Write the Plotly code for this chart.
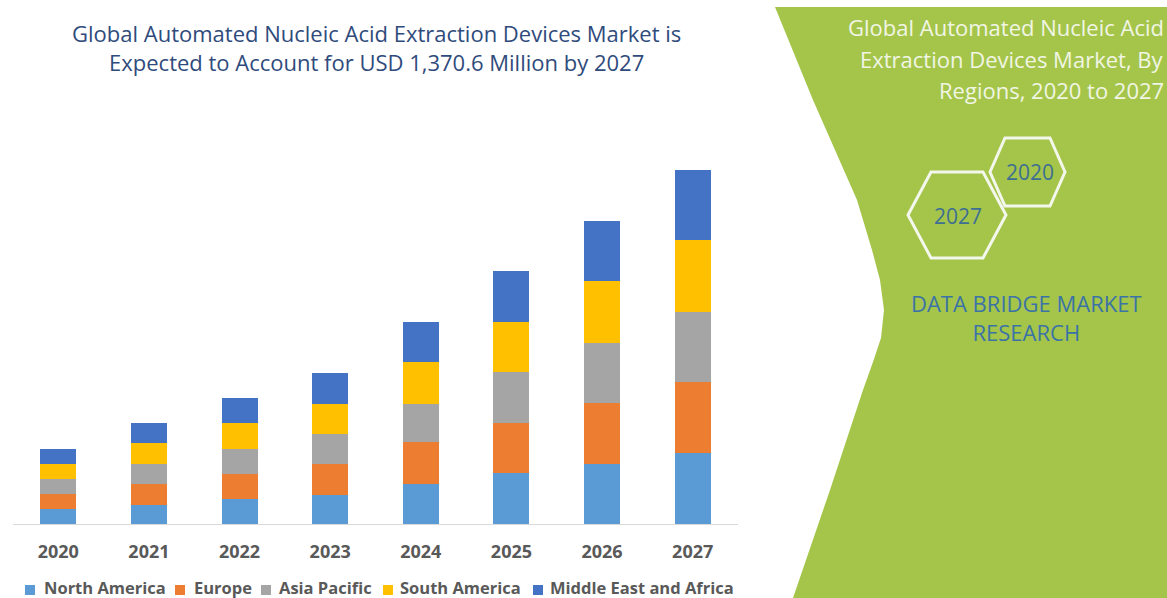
import plotly.graph_objects as go

# ---------------- data ----------------
years = ["2020", "2021", "2022", "2023", "2024", "2025", "2026", "2027"]
north_america = [58, 75, 97, 113, 156, 197, 234, 275]
europe = [58, 81, 98, 120, 160, 193, 235, 275]
asia_pacific = [58, 75, 96, 116, 150, 197, 233, 271]
south_america = [58, 81, 99, 116, 160, 193, 237, 279]
middle_east_africa = [58, 77, 99, 121, 156, 198, 233, 270.6]

series_names = ["North America", "Europe", "Asia Pacific", "South America", "Middle East and Africa"]
series_values = [north_america, europe, asia_pacific, south_america, middle_east_africa]
series_colors = ["#5b9bd5", "#ed7d31", "#a5a5a5", "#ffc000", "#4472c4"]

title_text = ("Global Automated Nucleic Acid Extraction Devices Market is<br>"
              "Expected to Account for USD 1,370.6 Million by 2027")
side_title_lines = ["Global Automated Nucleic Acid", "Extraction Devices Market, By",
                    "Regions, 2020 to 2027"]
brand_text = "DATA BRIDGE MARKET<br>RESEARCH"

# ---------------- geometry (pixels) ----------------
W, H = 1167, 598
L, R, T, B = 13, 429, 150, 74
PW, PH = W - L - R, H - T - B


def px(x):
    return (x - L) / PW


def py(y):
    return (H - B - y) / PH


fig = go.Figure()
for name, vals, col in zip(series_names, series_values, series_colors):
    fig.add_trace(go.Bar(x=years, y=vals, name=name, marker_color=col,
                         marker_line_width=0, showlegend=False))

shapes = []
# green side panel
pts = [(775, 7), (813, 100), (857, 200), (872, 250), (880, 280), (884, 310),
       (881, 338), (873, 362), (863, 390), (830, 490), (793, 598)]
path = f"M {px(W)},{py(7)} L {px(pts[0][0])},{py(pts[0][1])} "
for x, y in pts[1:]:
    path += f"L {px(x)},{py(y)} "
path += f"L {px(W)},{py(H)} Z"
shapes.append(dict(type="path", xref="paper", yref="paper", path=path,
                   fillcolor="#a4c54a", line=dict(width=0), layer="below"))


def hexagon(xl, xtl, xtr, xr, yt, ym, yb):
    p = (f"M {px(xl)},{py(ym)} L {px(xtl)},{py(yt)} L {px(xtr)},{py(yt)} "
         f"L {px(xr)},{py(ym)} L {px(xtr)},{py(yb)} L {px(xtl)},{py(yb)} Z")
    return dict(type="path", xref="paper", yref="paper", path=p,
                line=dict(color="#f4f7ec", width=3), fillcolor="rgba(0,0,0,0)")


shapes.append(hexagon(908, 931, 983, 1006, 172, 215, 258))
shapes.append(hexagon(990, 1005, 1050, 1065, 138, 172, 206))

annotations = []
# main title
annotations.append(dict(xref="paper", yref="paper", x=px(376), y=py(47),
                        text=title_text, showarrow=False, xanchor="center",
                        yanchor="middle", align="center",
                        font=dict(family="Open Sans", size=22, color="#2f4b7c")))
# side title (one annotation per line for exact line spacing)
for line, yy in zip(side_title_lines, [27, 59, 90]):
    annotations.append(dict(xref="paper", yref="paper", x=px(1166), y=py(yy),
                            text=line, showarrow=False, xanchor="right",
                            yanchor="middle", align="right",
                            font=dict(family="Open Sans", size=22, color="#f1f5e4")))
# hexagon labels
annotations.append(dict(xref="paper", yref="paper", x=px(958), y=py(216),
                        text="2027", showarrow=False, xanchor="center", yanchor="middle",
                        font=dict(family="Open Sans", size=21, color="#3e6f93")))
annotations.append(dict(xref="paper", yref="paper", x=px(1030), y=py(172),
                        text="2020", showarrow=False, xanchor="center", yanchor="middle",
                        font=dict(family="Open Sans", size=21, color="#3e6f93")))
# brand
annotations.append(dict(xref="paper", yref="paper", x=px(1026), y=py(317),
                        text=brand_text, showarrow=False, xanchor="center",
                        yanchor="middle", align="center",
                        font=dict(family="Open Sans", size=22, color="#3b73a6")))

# manual legend
sq_x = [25, 175, 261, 383, 533]
tx_x = [42, 192, 277, 398, 548]
for name, col, sx, tx in zip(series_names, series_colors, sq_x, tx_x):
    shapes.append(dict(type="rect", xref="paper", yref="paper",
                       x0=px(sx), x1=px(sx + 10), y0=py(595), y1=py(585),
                       fillcolor=col, line=dict(width=0)))
    annotations.append(dict(xref="paper", yref="paper", x=px(tx), y=py(587),
                            text=name, showarrow=False, xanchor="left", yanchor="middle",
                            font=dict(family="Open Sans", size=16.5, color="#595959",
                                      weight="bold")))

fig.update_layout(
    width=W, height=H,
    margin=dict(l=L, r=R, t=T, b=B, pad=0),
    barmode="stack", bargap=0.603,
    paper_bgcolor="white", plot_bgcolor="rgba(0,0,0,0)",
    shapes=shapes, annotations=annotations,
    xaxis=dict(type="category", showline=True, linecolor="#d9d9d9", linewidth=1,
               showgrid=False, ticks="", ticklabelstandoff=11,
               tickfont=dict(family="Open Sans", size=18, color="#595959", weight="bold"),
               fixedrange=True),
    yaxis=dict(range=[0, 1447], visible=False, showgrid=False, fixedrange=True),
    showlegend=False,
)

fig.write_html("out.html", config={"displayModeBar": False},
               post_script="document.body.style.margin='0';document.body.style.overflow='hidden';")
